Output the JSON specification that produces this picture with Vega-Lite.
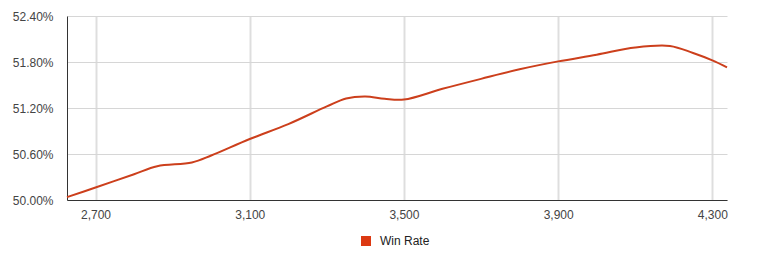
{
  "$schema": "https://vega.github.io/schema/vega-lite/v6.json",
  "width": 660,
  "height": 184,
  "autosize": {"type": "none"},
  "padding": {"left": 67, "top": 16, "right": 42, "bottom": 53},
  "background": "#ffffff",
  "config": {
    "font": "Liberation Sans",
    "view": {"stroke": null}
  },
  "data": {
    "values": [
      {"x": 2626, "rate": 0.50037, "series": "Win Rate"},
      {"x": 2700, "rate": 0.50163, "series": "Win Rate"},
      {"x": 2800, "rate": 0.50336, "series": "Win Rate"},
      {"x": 2860, "rate": 0.50440, "series": "Win Rate"},
      {"x": 2950, "rate": 0.50489, "series": "Win Rate"},
      {"x": 3000, "rate": 0.50580, "series": "Win Rate"},
      {"x": 3100, "rate": 0.50796, "series": "Win Rate"},
      {"x": 3200, "rate": 0.50990, "series": "Win Rate"},
      {"x": 3300, "rate": 0.51221, "series": "Win Rate"},
      {"x": 3350, "rate": 0.51325, "series": "Win Rate"},
      {"x": 3400, "rate": 0.51351, "series": "Win Rate"},
      {"x": 3450, "rate": 0.51320, "series": "Win Rate"},
      {"x": 3500, "rate": 0.51310, "series": "Win Rate"},
      {"x": 3600, "rate": 0.51450, "series": "Win Rate"},
      {"x": 3700, "rate": 0.51580, "series": "Win Rate"},
      {"x": 3800, "rate": 0.51705, "series": "Win Rate"},
      {"x": 3900, "rate": 0.51808, "series": "Win Rate"},
      {"x": 4000, "rate": 0.51895, "series": "Win Rate"},
      {"x": 4100, "rate": 0.51990, "series": "Win Rate"},
      {"x": 4190, "rate": 0.52010, "series": "Win Rate"},
      {"x": 4250, "rate": 0.51917, "series": "Win Rate"},
      {"x": 4300, "rate": 0.51821, "series": "Win Rate"},
      {"x": 4338, "rate": 0.51730, "series": "Win Rate"}
    ]
  },
  "mark": {"type": "line", "interpolate": "catmull-rom", "strokeWidth": 2},
  "encoding": {
    "x": {
      "field": "x",
      "type": "quantitative",
      "scale": {"domain": [2626, 4338], "nice": false, "zero": false},
      "axis": {
        "title": null,
        "values": [2700, 3100, 3500, 3900, 4300],
        "format": ",d",
        "tickSize": 0,
        "labelPadding": 9,
        "labelFontSize": 12,
        "labelColor": "#444444",
        "domainColor": "#333333",
        "domainWidth": 1,
        "gridColor": "#dedede",
        "gridWidth": 2,
        "gridOpacity": 1
      }
    },
    "y": {
      "field": "rate",
      "type": "quantitative",
      "scale": {"domain": [0.5, 0.524], "nice": false, "zero": false},
      "axis": {
        "title": null,
        "values": [0.5, 0.506, 0.512, 0.518, 0.524],
        "format": ".2%",
        "tickSize": 0,
        "labelPadding": 14,
        "labelFontSize": 12,
        "labelColor": "#444444",
        "domainColor": "#333333",
        "domainWidth": 1,
        "gridColor": "#d6d6d6",
        "gridWidth": 1,
        "gridOpacity": 1
      }
    },
    "color": {
      "field": "series",
      "type": "nominal",
      "scale": {"range": ["#cc3f1c"]},
      "legend": {
        "title": null,
        "orient": "none",
        "legendX": 293,
        "legendY": 219,
        "symbolType": "square",
        "symbolSize": 100,
        "symbolFillColor": "#dc3912",
        "symbolStrokeWidth": 0,
        "labelFontSize": 12,
        "labelColor": "#222222",
        "labelOffset": 8
      }
    }
  }
}
